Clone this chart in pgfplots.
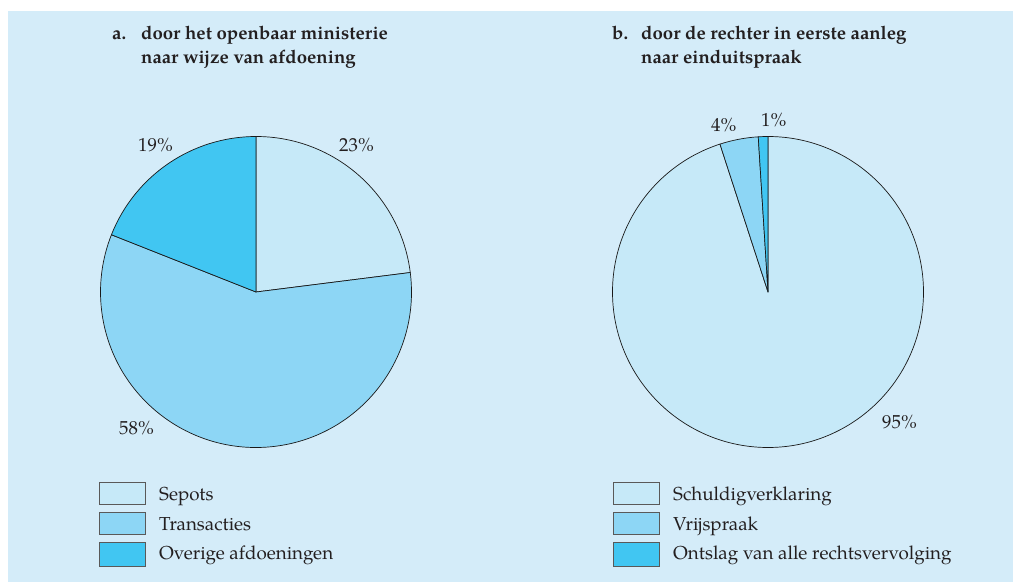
\documentclass[border=0pt]{standalone}
\usepackage{pgfplots}
\usepackage{pgfplotstable}
\usepackage{fontspec}
\setmainfont{TeX Gyre Pagella}
\pgfplotsset{compat=1.18}
\definecolor{bgc}{HTML}{D4ECF9}
\definecolor{col0}{HTML}{C6E9F8}
\definecolor{col1}{HTML}{8DD6F5}
\definecolor{col2}{HTML}{41C6F2}
\definecolor{txt}{HTML}{231F20}

\pgfplotstableread{
label value
Sepots 23
Transacties 58
Overige 19
}\tableA
\pgfplotstableread{
label value
Schuldig 95
Vrijspraak 4
Ontslag 1
}\tableB

% #1 centre x, #2 centre y, #3 radius, #4 table
\newcommand\drawpie[4]{%
  \def\cum{0}%
  \pgfplotstablegetrowsof{#4}%
  \pgfmathtruncatemacro\nrows{\pgfplotsretval-1}%
  \pgfplotsforeachungrouped \i in {0,...,\nrows}{%
    \pgfplotstablegetelem{\i}{value}\of{#4}%
    \let\v\pgfplotsretval
    \pgfmathsetmacro\sa{90-\cum*3.6}%
    \pgfmathsetmacro\cumnew{\cum+\v}%
    \pgfmathsetmacro\ea{90-\cumnew*3.6}%
    \global\let\cum\cumnew
    \edef\cmd{\noexpand\filldraw[fill=col\i,draw=black!90,line width=0.7pt,line join=round]
      (axis cs:#1,#2) -- ++(\sa:#3pt) arc[start angle=\sa,end angle=\ea,radius=#3pt] -- cycle;}%
    \cmd
  }%
}

\begin{document}
\begin{tikzpicture}
\begin{axis}[
  width=1013pt, height=582pt, scale only axis,
  xmin=0, xmax=1013, ymin=0, ymax=582,
  hide axis, clip=false,
]
\fill[white] (axis cs:0,0) rectangle (axis cs:1013,582);
\fill[bgc] (axis cs:8,0) rectangle (axis cs:1013,571);

\drawpie{256}{290}{155.5}{\tableA}
\drawpie{768}{290}{155.5}{\tableB}

\begin{scope}[every node/.style={anchor=base west,inner sep=0pt,text=txt,font=\fontsize{18.8}{22}\selectfont}]
% titles
\node[font=\fontsize{18.6}{22}\selectfont\bfseries] at (axis cs:112,542) {a.};
\node[font=\fontsize{18.6}{22}\selectfont\bfseries] at (axis cs:141,542) {door het openbaar ministerie};
\node[font=\fontsize{18.6}{22}\selectfont\bfseries] at (axis cs:141,518) {naar wijze van afdoening};
\node[font=\fontsize{18.6}{22}\selectfont\bfseries] at (axis cs:612,542) {b.};
\node[font=\fontsize{18.6}{22}\selectfont\bfseries] at (axis cs:641,542) {door de rechter in eerste aanleg};
\node[font=\fontsize{18.6}{22}\selectfont\bfseries] at (axis cs:641,518) {naar einduitspraak};
% percentages
\node at (axis cs:138,430) {19\%};
\node at (axis cs:339,430) {23\%};
\node at (axis cs:119,148) {58\%};
\node at (axis cs:711,450) {4\%};
\node at (axis cs:761,455) {1\%};
\node at (axis cs:882,154) {95\%};
% legends
\node at (axis cs:159,82) {Sepots};
\node at (axis cs:159,52) {Transacties};
\node at (axis cs:159,23) {Overige afdoeningen};
\node at (axis cs:673,82) {Schuldigverklaring};
\node at (axis cs:673,52) {Vrijspraak};
\node at (axis cs:673,23) {Ontslag van alle rechtsvervolging};
\end{scope}
\begin{scope}[draw=black!65,line width=0.8pt]
\filldraw[fill=col0] (axis cs:99,100) rectangle (axis cs:145,78);
\filldraw[fill=col1] (axis cs:99,70) rectangle (axis cs:145,48);
\filldraw[fill=col2] (axis cs:99,40) rectangle (axis cs:145,16);
\filldraw[fill=col0] (axis cs:613,100) rectangle (axis cs:659,78);
\filldraw[fill=col1] (axis cs:613,70) rectangle (axis cs:659,48);
\filldraw[fill=col2] (axis cs:613,40) rectangle (axis cs:659,16);
\end{scope}
\end{axis}
\end{tikzpicture}
\end{document}
